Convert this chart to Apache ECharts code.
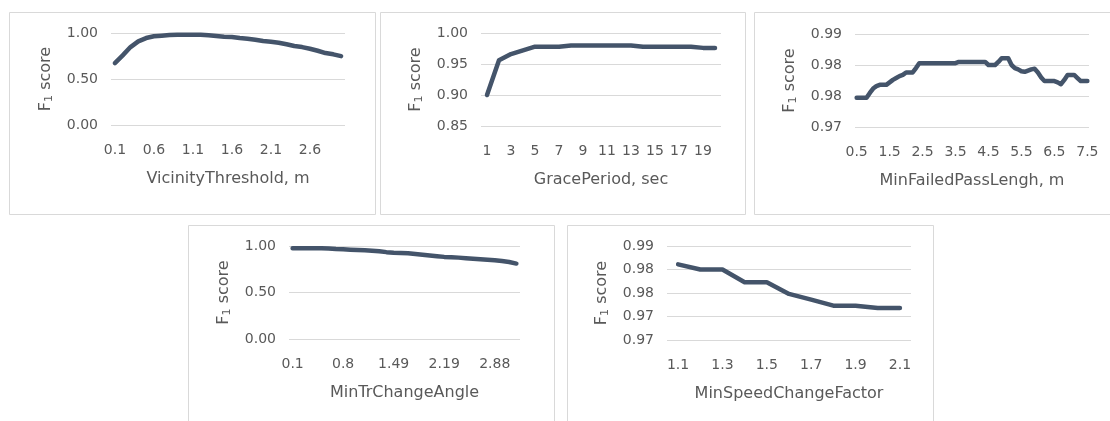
<!DOCTYPE html>
<html>
<head>
<meta charset="utf-8">
<script src="https://cdn.jsdelivr.net/npm/echarts@6/dist/echarts.min.js"></script>
<style>
html,body{margin:0;padding:0;background:#fff;}
#c{width:1110px;height:421px;}
</style>
</head>
<body>
<div id="c"></div>
<script>
// ---------- data ----------
const p1Cats = ['0.1','0.2','0.3','0.4','0.5','0.6','0.7','0.8','0.9','1','1.1','1.2','1.3','1.4','1.5','1.6','1.7','1.8','1.9','2','2.1','2.2','2.3','2.4','2.5','2.6','2.7','2.8','2.9','3'];
const p1Vals = [0.673,0.757,0.847,0.909,0.945,0.964,0.971,0.978,0.982,0.982,0.982,0.982,0.975,0.967,0.960,0.956,0.945,0.938,0.927,0.913,0.905,0.894,0.877,0.858,0.847,0.829,0.807,0.782,0.768,0.749];
const p1YTicks = [0, 0.5, 1.0];

const p2Cats = ['1','2','3','4','5','6','7','8','9','10','11','12','13','14','15','16','17','18','19','20'];
const p2Vals = [0.900,0.956,0.966,0.972,0.978,0.978,0.978,0.980,0.980,0.980,0.980,0.980,0.980,0.978,0.978,0.978,0.978,0.978,0.976,0.976];
const p2YTicks = [0.85, 0.90, 0.95, 1.00];

const p3Cats = ['0.5','0.6','0.7','0.8','0.9','1','1.1','1.2','1.3','1.4','1.5','1.6','1.7','1.8','1.9','2','2.1','2.2','2.3','2.4','2.5','2.6','2.7','2.8','2.9','3','3.1','3.2','3.3','3.4','3.5','3.6','3.7','3.8','3.9','4','4.1','4.2','4.3','4.4','4.5','4.6','4.7','4.8','4.9','5','5.1','5.2','5.3','5.4','5.5','5.6','5.7','5.8','5.9','6','6.1','6.2','6.3','6.4','6.5','6.6','6.7','6.8','6.9','7','7.1','7.2','7.3','7.4','7.5'];
const p3Vals = [0.9797,0.9797,0.9797,0.9797,0.9805,0.9812,0.9816,0.9818,0.9818,0.9818,0.9822,0.9826,0.9829,0.9832,0.9834,0.9838,0.9838,0.9838,0.9845,0.9853,0.9853,0.9853,0.9853,0.9853,0.9853,0.9853,0.9853,0.9853,0.9853,0.9853,0.9853,0.9855,0.9855,0.9855,0.9855,0.9855,0.9855,0.9855,0.9855,0.9855,0.9850,0.9850,0.9850,0.9855,0.9861,0.9861,0.9861,0.9850,0.9845,0.9843,0.9840,0.9839,0.9841,0.9843,0.9844,0.9838,0.9830,0.9824,0.9824,0.9824,0.9824,0.9822,0.9819,0.9826,0.9834,0.9834,0.9834,0.9829,0.9824,0.9824,0.9824];
const p3YTicks = [0.975, 0.98, 0.985, 0.99];

const p4Cats = ['0.1','0.2','0.3','0.4','0.5','0.6','0.7','0.8','0.89','0.99','1.09','1.19','1.29','1.39','1.49','1.59','1.69','1.79','1.89','1.99','2.09','2.19','2.29','2.39','2.48','2.58','2.68','2.78','2.88','2.98','3.08','3.18'];
const p4Vals = [0.975,0.975,0.975,0.975,0.975,0.974,0.968,0.964,0.961,0.957,0.954,0.950,0.943,0.934,0.928,0.925,0.921,0.914,0.906,0.898,0.890,0.883,0.879,0.875,0.869,0.864,0.858,0.852,0.846,0.838,0.828,0.811];
const p4YTicks = [0, 0.5, 1.0];

const p5Cats = ['1.1','1.2','1.3','1.4','1.5','1.6','1.7','1.8','1.9','2','2.1'];
const p5Vals = [0.9861,0.9850,0.9850,0.9823,0.9823,0.9798,0.9786,0.9773,0.9773,0.9768,0.9768];
const p5YTicks = [0.97, 0.975, 0.98, 0.985, 0.99];

const xTitles = ['VicinityThreshold, m','GracePeriod, sec','MinFailedPassLengh, m','MinTrChangeAngle','MinSpeedChangeFactor'];
const yTitle = 'F{s|1} score';

// ---------- layout ----------
const FONT = 'DejaVu Sans';
const TXT = '#595959';
const GRIDC = '#d9d9d9';
const LINEC = '#44546A';

const panels = [
  {cats:p1Cats, vals:p1Vals, ticks:p1YTicks, every:4, box:[9,12,366,202], grid:[111,33,234,92]},
  {cats:p2Cats, vals:p2Vals, ticks:p2YTicks, every:1, box:[380,12,365,202], grid:[481,33,240,93]},
  {cats:p3Cats, vals:p3Vals, ticks:p3YTicks, every:9, box:[754,12,370,202], grid:[855,34,234,93]},
  {cats:p4Cats, vals:p4Vals, ticks:p4YTicks, every:6, box:[188,225,366,210], grid:[289,246,231,93]},
  {cats:p5Cats, vals:p5Vals, ticks:p5YTicks, every:1, box:[567,225,366,210], grid:[667,246,244,94]}
];

const grids=[], xAxes=[], yAxes=[], series=[], graphics=[];
panels.forEach((p,i)=>{
  graphics.push({type:'rect', shape:{x:p.box[0]+0.5, y:p.box[1]+0.5, width:p.box[2], height:p.box[3]},
    style:{fill:'#fff', stroke:GRIDC, lineWidth:1}, z:-10, silent:true});
  grids.push({left:p.grid[0], top:p.grid[1], width:p.grid[2], height:p.grid[3], containLabel:false});
  xAxes.push({type:'category', gridIndex:i, data:p.cats, boundaryGap:true,
    axisLine:{show:false}, axisTick:{show:false},
    axisLabel:{interval:p.every, color:TXT, fontFamily:FONT, fontSize:14, margin:18},
    name:xTitles[i], nameLocation:'middle', nameGap:46,
    nameTextStyle:{color:TXT, fontFamily:FONT, fontSize:16}});
  const t = p.ticks;
  yAxes.push({type:'value', gridIndex:i, min:t[0], max:t[t.length-1], interval:+(t[1]-t[0]).toFixed(4),
    axisLine:{show:false}, axisTick:{show:false},
    splitLine:{show:true, lineStyle:{color:GRIDC, width:1}},
    axisLabel:{color:TXT, fontFamily:FONT, fontSize:14, margin:13, formatter:v=>v.toFixed(2)},
    name:yTitle, nameLocation:'middle', nameGap:56,
    nameTextStyle:{color:TXT, fontFamily:FONT, fontSize:16,
      rich:{s:{fontSize:11, fontFamily:FONT, color:TXT, padding:[8,0,0,0]}}}});
  series.push({type:'line', xAxisIndex:i, yAxisIndex:i, data:p.vals, showSymbol:false,
    lineStyle:{color:LINEC, width:4.5, cap:'round', join:'round'}, animation:false});
});

const chart = echarts.init(document.getElementById('c'), null, {renderer:'canvas'});
chart.setOption({
  animation:false,
  backgroundColor:'#fff',
  graphic:graphics,
  grid:grids, xAxis:xAxes, yAxis:yAxes, series:series
});
</script>
</body>
</html>
